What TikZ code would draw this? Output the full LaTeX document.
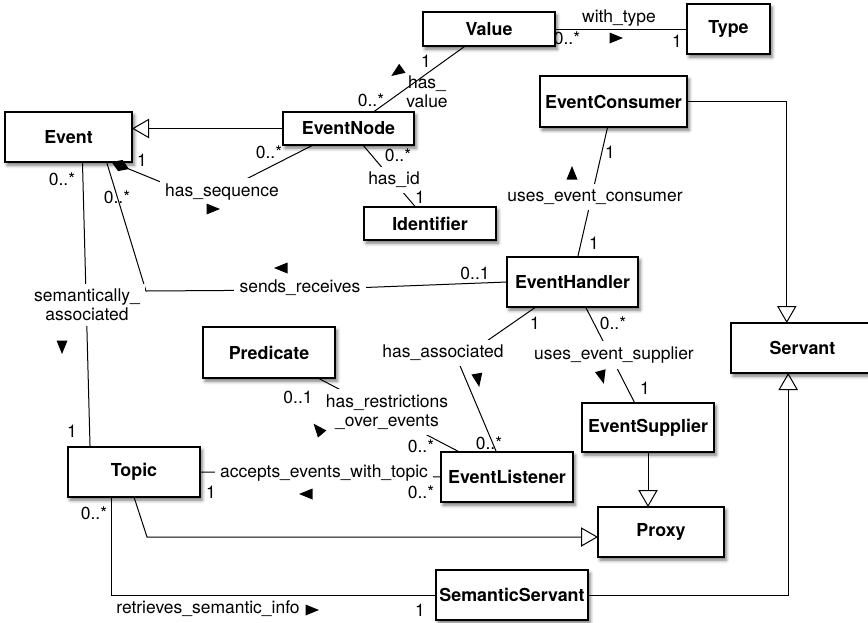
\documentclass[tikz,border=0pt]{standalone}
\usepackage{fontspec}
\setmainfont{TeX Gyre Heros}
\usetikzlibrary{arrows.meta,calc,shadows.blur}

% a class box given by its corners (x1,y1) and (x2,y2) in pixel units
\newcommand\umlclass[6]{%
  \node[cls, minimum width={(#4-#2)*0.75pt}, minimum height={(#5-#3)*0.75pt}]
    (#1) at ({(#2+#4)/2},{(#3+#5)/2}) {#6};}

\tikzset{
  cls/.style={draw, line width=0.9pt, fill=white, inner sep=0pt, outer sep=0pt,
    font=\bfseries\fontsize{13.4}{14.5}\selectfont,
    blur shadow={shadow xshift=1.6pt, shadow yshift=-2.4pt,
      shadow blur radius=2.5pt, shadow opacity=55}},
  lbl/.style={font=\fontsize{13.1}{14.2}\selectfont, inner sep=0pt, align=center},
  cut/.style={lbl, fill=white, inner xsep=4pt, inner ysep=4pt},
  mult/.style={lbl},
  conn/.style={line width=0.75pt},
  gen/.style={conn, -{Triangle[open, length=12.75pt, width=14.5pt, line width=0.75pt]}},
  comp/.style={conn, -{Diamond[length=14pt, width=9pt]}},
  dirarr/.pic={\fill (7,0) -- (-6.5,5.5) -- (-6.5,-5.5) -- cycle;}
}

\begin{document}
\begin{tikzpicture}[x=0.75pt, y=-0.75pt]
\useasboundingbox (0,0) rectangle (868,622);

% ---- classes ----
\umlclass{event}{5}{112}{132}{162}{Event}
\umlclass{enode}{283}{112}{414}{145}{EventNode}
\umlclass{value}{423}{12}{555}{46}{Value}
\umlclass{type}{687}{4}{770}{54}{Type}
\umlclass{consumer}{540}{76}{687}{127}{EventConsumer}
\umlclass{ident}{364}{207}{496}{240}{Identifier}
\umlclass{handler}{507}{257}{638}{307}{EventHandler}
\umlclass{servant}{731}{323}{874}{373}{Servant}
\umlclass{pred}{203}{327}{335}{378}{Predicate}
\umlclass{supplier}{582}{403}{714}{452}{EventSupplier}
\umlclass{listener}{441}{452}{573}{502}{EventListener}
\umlclass{topic}{68}{447}{200}{497}{Topic}
\umlclass{proxy}{598}{507}{724}{557}{Proxy}
\umlclass{semserv}{436}{570}{588}{620}{SemanticServant}

% ---- waypoints of bent connectors ----
\coordinate (seqbend) at (205,200);
\coordinate (srcorner) at (146,291);
\coordinate (srmid) at (300,290);
\coordinate (hamid) at (458,361);
\coordinate (acmid) at (324,473);
\coordinate (tpbend) at (147,537);

% ---- generalizations ----
\draw[gen] (enode.west) -- (enode.west -| event.east);
\draw[gen] (consumer.east) -| ($(servant.north west)!0.39!(servant.north east)$);
\draw[gen] (semserv.east) -| ($(servant.south west)!0.4!(servant.south east)$);
\draw[gen] (supplier.south) -- (supplier.south |- proxy.north);
\draw[gen] (topic.south) -- (tpbend) -- (tpbend -| proxy.west);

% ---- associations ----
\draw[conn] (value.east) -- (type.west);
\draw[conn] ($(value.south west)!0.32!(value.south east)$) -- ($(enode.north west)!0.69!(enode.north east)$);
\draw[comp] ($(enode.south west)!0.23!(enode.south east)$) -- (seqbend) -- ($(event.south west)!0.84!(event.south east)$);
\draw[conn] ($(enode.south west)!0.61!(enode.south east)$) -- ($(ident.north west)!0.39!(ident.north east)$);
\draw[conn] ($(event.south west)!0.61!(event.south east)$) -- ($(topic.north west)!0.167!(topic.north east)$);
\draw[conn] ($(event.south west)!0.8!(event.south east)$) -- (srcorner) -- (srmid) -- (handler.west);
\draw[conn] ($(consumer.south west)!0.46!(consumer.south east)$) -- ($(handler.north west)!0.54!(handler.north east)$);
\draw[conn] ($(topic.south west)!0.333!(topic.south east)$) |- (semserv.west);
\draw[conn] (topic.east) -- (acmid) -- (listener.west);
\draw[conn] ($(pred.south west)!0.87!(pred.south east)$) -- ($(listener.north west)!0.14!(listener.north east)$);
\draw[conn] ($(handler.south west)!0.22!(handler.south east)$) -- (hamid) -- ($(listener.north west)!0.42!(listener.north east)$);
\draw[conn] ($(handler.south west)!0.6!(handler.south east)$) -- ($(supplier.north west)!0.4!(supplier.north east)$);

% ---- association names ----
\node[cut] (l-seq) at (222,192) {has\_sequence};
\node[cut] (l-id) at (394,180) {has\_id};
\node[cut] (l-sem) at (87,305) {semantically\_\\associated};
\node[cut] (l-sr) at (300,288) {sends\_receives};
\node[cut] (l-cons) at (595,197) {uses\_event\_consumer};
\node[cut] (l-res) at (387,412) {has\_restrictions\\\_over\_events};
\node[cut] (l-ha) at (443,353) {has\_associated};
\node[cut] (l-sup) at (614,355) {uses\_event\_supplier};
\node[cut] (l-acc) at (324,473) {accepts\_events\_with\_topic};
\node[lbl] (l-type) at (619,18) {with\_type};
\node[lbl] (l-val) at (427,92) {has\_\\value};
\node[lbl] (l-ret) at (208,609) {retrieves\_semantic\_info};

% ---- multiplicities ----
\node[mult] (m1) at (426,61) {1};
\node[mult] (m2) at (371,100) {0..*};
\node[mult] (m3) at (142,160) {1};
\node[mult] (m4) at (269,152) {0..*};
\node[mult] (m5) at (398,155) {0..*};
\node[mult] (m6) at (420,197) {1};
\node[mult] (m7) at (62,179) {0..*};
\node[mult] (m8) at (117,197) {0..*};
\node[mult] (m9) at (72,431) {1};
\node[mult] (m10) at (475,273) {0..1};
\node[mult] (m11) at (610,152) {1};
\node[mult] (m12) at (594,243) {1};
\node[mult] (m13) at (535,323) {1};
\node[mult] (m14) at (613,323) {0..*};
\node[mult] (m15) at (645,388) {1};
\node[mult] (m16) at (298,397) {0..1};
\node[mult] (m17) at (421,446) {0..*};
\node[mult] (m18) at (489,443) {0..*};
\node[mult] (m19) at (211,492) {1};
\node[mult] (m20) at (421,492) {0..*};
\node[mult] (m21) at (94,513) {0..*};
\node[mult] (m22) at (420,610) {1};
\node[mult] (m23) at (567,38) {0..*};
\node[mult] (m24) at (677,41) {1};

% ---- reading-direction triangles ----
\pic at (616,38) {dirarr};
\pic[rotate=215] at (397,72) {dirarr};
\pic at (213,209) {dirarr};
\pic[rotate=270] at (62,347) {dirarr};
\pic[rotate=180] at (281,268) {dirarr};
\pic[rotate=90] at (572,173) {dirarr};
\pic[rotate=280] at (478,380) {dirarr};
\pic[rotate=285] at (602,377) {dirarr};
\pic[rotate=130] at (318,429) {dirarr};
\pic[rotate=180] at (306,494) {dirarr};
\pic at (312,610) {dirarr};
\end{tikzpicture}
\end{document}
